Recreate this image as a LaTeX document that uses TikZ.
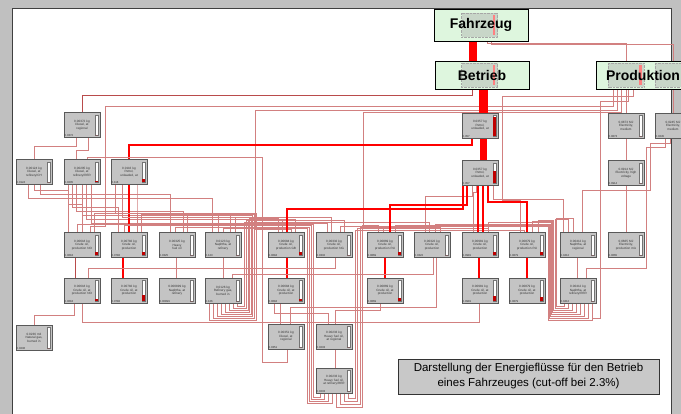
\documentclass[tikz,border=0pt]{standalone}
\usepackage{fontspec}
\setmainfont{Liberation Sans}
\usetikzlibrary{calc,backgrounds}

\definecolor{flowpink}{RGB}{210,128,128}
\definecolor{flowdark}{RGB}{185,75,75}
\definecolor{boxgrey}{RGB}{196,196,196}
\definecolor{boxgreen}{RGB}{222,246,222}
\definecolor{framegrey}{RGB}{192,192,192}
\definecolor{capgrey}{RGB}{200,200,200}
\definecolor{thumbgrey}{RGB}{200,214,200}

\tikzstyle{procbox} = [draw=black!65, line width=0.4pt, fill=boxgrey, minimum width=36pt, minimum height=25pt, inner sep=0pt, text width=28pt, align=center, font=\fontsize{3.1}{3.5}\selectfont, text=black!80]
\tikzstyle{procnum} = [anchor=south west, inner sep=0.7pt, font=\fontsize{2.8}{3}\selectfont, text=black!85]
\tikzstyle{barline} = [draw=black!55, line width=0.3pt, fill=white]
\tikzstyle{barred} = [fill=red!75!black]
\tikzstyle{topbox} = [draw=black, line width=0.7pt, fill=boxgreen, minimum width=94pt, minimum height=28pt, inner sep=0pt, font=\fontsize{14}{16}\selectfont\bfseries]
\tikzstyle{capbox} = [draw=black!80, line width=0.6pt, fill=capgrey, minimum width=261pt, minimum height=35pt, align=center, font=\fontsize{11.5}{15}\selectfont]
\tikzstyle{flow} = [draw=flowpink, line width=0.75pt]
\tikzstyle{flowdark} = [draw=flowdark, line width=0.8pt]
\tikzstyle{flowred} = [draw=red, line width=1.8pt]
\tikzstyle{bandred} = [draw=red, line width=1.4pt]

\tikzset{thumbs/.style={path picture={
  \foreach \o in {#1}{
    \fill[thumbgrey] ([xshift={(\o-18)*1pt},yshift=-12pt]path picture bounding box.center) rectangle ([xshift={(\o+18)*1pt},yshift=12pt]path picture bounding box.center);
    \draw[black!35, densely dotted, line width=0.4pt] ([xshift={(\o-18)*1pt},yshift=-12pt]path picture bounding box.center) rectangle ([xshift={(\o+18)*1pt},yshift=12pt]path picture bounding box.center);
    \fill[red!50] ([xshift={(\o+13)*1pt},yshift=-10pt]path picture bounding box.center) rectangle ([xshift={(\o+15.5)*1pt},yshift=10pt]path picture bounding box.center);
  }}}}

% process box: name, x, y, label, value, red part of the bar
\newcommand{\proc}[6]{%
  \node[procbox] (#1) at (#2,#3) {#4};
  \draw[barline] ([xshift=-5pt,yshift=-2.5pt]#1.north east) rectangle ([xshift=-2pt,yshift=2.5pt]#1.south east);
  \fill[barred] ([xshift=-5pt,yshift=2.5pt]#1.south east) rectangle ([xshift=-2pt,yshift={2.5pt+#6*20pt}]#1.south east);
  \node[procnum] (#1-num) at (#1.south west) {#5};
}
% down flow: [style]{from}{shift}{drop}{to}{shift}
\newcommand{\dflow}[6][flow]{\draw[#1] ([xshift=#3pt]#2.south) -- ++(0,#4) -| ([xshift=#6pt]#5.north);}

\begin{document}
\begin{tikzpicture}[x=1pt,y=-1pt]
\useasboundingbox (0,0) rectangle (681,414);
\clip (0,0) rectangle (681,414);

% top level
\node[topbox, minimum height=32pt, thumbs={-1.5}] (Fahrzeug) at (481,25) {Fahrzeug};
\node[topbox, thumbs={-2.5}] (Betrieb) at (482,75.5) {Betrieb};
\node[topbox, thumbs={-17,30}] (Produktion) at (643,75) {Produktion};

% first rows
\proc{dA}{82}{125}{0.00372 kg\\Diesel, at\\regional}{0.0372}{0}
\proc{dB}{34}{172}{0.00124 kg\\Diesel, at\\refinery/CH}{0.0124}{0}
\proc{dC}{82}{172}{0.00205 kg\\Diesel, at\\refinery/RER}{0.0205}{0.05}
\proc{pA}{129}{172}{0.0116 kg\\Petrol,\\unleaded, at}{0.116}{0.15}
\proc{pT1}{480}{125.5}{0.0357 kg\\Petrol,\\unleaded, at}{0.357}{0.95}
\proc{pT2}{480}{173}{0.0357 kg\\Petrol,\\unleaded, at}{0.357}{0.6}
\proc{eA}{626}{125.5}{0.0873 MJ\\Electricity,\\medium}{0.0873}{0}
\proc{eB}{673}{125.5}{0.0245 MJ\\Electricity,\\medium}{0.0245}{0}
\proc{eC}{626}{173}{0.0914 MJ\\Electricity, high\\voltage}{0.0914}{0}

% row B
\proc{B82}{82}{245}{0.00618 kg\\Crude oil,\\production NO}{0.0618}{0.15}
\proc{B129}{129}{245}{0.00782 kg\\Crude oil,\\production}{0.0782}{0.15}
\proc{B177}{177}{245}{0.00325 kg\\Heavy\\fuel oil}{0.0325}{0}
\proc{B223}{223}{245}{0.0123 kg\\Naphtha, at\\refinery}{0.123}{0}
\proc{B286}{286}{245}{0.00684 kg\\Crude oil,\\production GB}{0.0684}{0.15}
\proc{B334}{334}{245}{0.00332 kg\\Crude oil,\\production NG}{0.0332}{0}
\proc{B385}{385}{245}{0.00869 kg\\Crude oil,\\production RU}{0.0869}{0.15}
\proc{B432}{432}{245}{0.00322 kg\\Crude oil,\\production}{0.0322}{0}
\proc{B480}{480}{245}{0.00981 kg\\Crude oil,\\production}{0.0981}{0.15}
\proc{B527}{527}{245}{0.00879 kg\\Crude oil,\\production RU}{0.0879}{0.15}
\proc{B578}{578}{245}{0.00412 kg\\Naphtha, at\\regional}{0.0412}{0}
\proc{B626}{626}{245}{0.0665 MJ\\Electricity,\\production mix}{0.0665}{0}

% row C
\proc{C82}{82}{290.5}{0.00618 kg\\Crude oil, at\\production NO}{0.0618}{0.1}
\proc{C129}{129}{290.5}{0.00782 kg\\Crude oil, at\\production}{0.0782}{0.3}
\proc{C177}{177}{290.5}{0.000899 kg\\Naphtha, at\\refinery}{0.00899}{0}
\proc{C223}{223}{290.5}{0.0126 kg\\Refinery gas,\\burned in}{0.126}{0}
\proc{C286}{286}{290.5}{0.00684 kg\\Crude oil, at\\production}{0.0684}{0.1}
\proc{C385}{385}{290.5}{0.00869 kg\\Crude oil, at\\production}{0.0869}{0.15}
\proc{C480}{480}{290.5}{0.00981 kg\\Crude oil, at\\production}{0.0981}{0.25}
\proc{C527}{527}{290.5}{0.00879 kg\\Crude oil, at\\production}{0.0879}{0.2}
\proc{C578}{578}{290.5}{0.00412 kg\\Naphtha, at\\refinery/RER}{0.0412}{0}

% rows D and E
\proc{D34}{34}{337.5}{0.0236 m3\\Natural gas,\\burned in}{0.0236}{0}
\proc{D286}{286}{336.5}{0.00351 kg\\Diesel, at\\regional}{0.0351}{0}
\proc{D334}{334}{336.5}{0.00233 kg\\Heavy fuel oil,\\at regional}{0.0233}{0}
\proc{E334}{334}{380.5}{0.00233 kg\\Heavy fuel oil,\\at refinery/RER}{0.0233}{0}

\node[capbox] (caption) at (528.5,376.5) {Darstellung der Energieflüsse für den Betrieb\\eines Fahrzeuges (cut-off bei 2.3\%)};

\begin{pgfonlayer}{background}
\fill[framegrey] (0,0) rectangle (681,414);
\fill[white] (12,8) rectangle (671,414);
\draw[black!75, line width=0.8pt] (12,414) -- (12,8) -- (671,8) -- (671,414);

% Fahrzeug and Produktion
\draw[flow] ([xshift=6pt]Fahrzeug.south) -- ++(0,2) -| ([xshift=-17pt]Produktion.north);
\draw[flow] ([xshift=10pt]Fahrzeug.south) -- ++(0,3.5) -| ([xshift=30pt]Produktion.north);
\draw[flow] ([xshift=-17pt]Produktion.south) -- (eA.north);
\draw[flow] ([xshift=30pt]Produktion.south) -- (eB.north);
\draw[flow] (eA.south) -- (eC.north);
\draw[flow] (eC.south) -- (B626.north);
\draw[flow] ([xshift=-3pt]eB.south) -- ++(0,5) -| (650,190) -| ([xshift=4pt]B578.north);
\draw[flow] ([xshift=-8pt]eB.south) -- ++(0,9) -| (646,268) -| ([xshift=8pt]C578.north);
\draw[flow] ([xshift=-30pt]Produktion.south) -- ++(0,17) -| (105,226) -| ([xshift=8pt]B82.north);
\draw[flow] ([xshift=-26pt]Produktion.south) -- ++(0,21) -| (255,229) -| ([xshift=5pt]B286.north);
\draw[flow] ([xshift=-22pt]Produktion.south) -- ++(0,23) -| (363,228) -| ([xshift=-2pt]B385.north);
\draw[flow] ([xshift=-10pt]Produktion.south) -- ++(0,7) -| (502,200) -| ([xshift=-7pt]B527.north);
\draw[flow] ([xshift=-15pt]Produktion.south) -- ++(0,12) -| (600,318) -| ([xshift=14pt]C578.south);

% Betrieb
\draw[flowred, line width=8pt] ([xshift=-8pt]Fahrzeug.south) -- ([xshift=-9pt]Betrieb.north);
\draw[flowred, line width=9pt] ([xshift=1pt]Betrieb.south) -- ([xshift=3pt]pT1.north);
\draw[flowred, line width=7pt] ([xshift=3pt]pT1.south) -- ([xshift=3pt]pT2.north);
\draw[flowdark] ([xshift=-10pt]Betrieb.south) -- ++(0,5.5) -| (dA.north);
\draw[flowred] ([xshift=-8pt]pT1.south) -- ++(0,6.5) -| (pA.north);
\draw[flow] ([xshift=-6pt]dA.south) -- ++(0,9) -| (dB.north);
\draw[flow] ([xshift=6pt]dA.south) -- ++(0,13) -| ([xshift=-6pt]dC.north);

% band down to row B
\dflow{dB}{0}{5.5}{B82}{-14}
\dflow{dB}{6}{9.5}{B177}{-7}
\dflow{dB}{-6}{13.5}{B223}{-11}
\dflow{dC}{-14}{19.5}{B82}{0}
\dflow{dC}{-10}{22.5}{B129}{-11}
\dflow{dC}{-6}{26.5}{B177}{6}
\dflow{dC}{0}{30.5}{B223}{-5}
\dflow{dC}{4}{34.5}{B286}{-4}
\dflow{dC}{9}{38.5}{B334}{-7}
\dflow[flowred]{pA}{0}{10}{B129}{0}
\dflow{pA}{8}{10}{B129}{8}
\dflow{pA}{-14}{28.5}{B223}{7}
\dflow{pA}{-7}{32.5}{B334}{-3}
\dflow{pT2}{-8}{10.5}{B432}{-7}
\dflow{pT2}{13}{13.5}{B578}{-15}
\dflow{pT2}{-4}{6.5}{B480}{-7}

% bundles up into the band
\foreach \k/\tg/\ts in {0/B82/12, 1/B129/12, 2/B177/10, 3/B223/12, 4/B286/-8, 5/B286/9, 6/B334/10, 7/B432/-3}
  \draw[flow] ([xshift={(4*\k-14)*1pt}]C223.south) -- ++(0,{17-2*\k}) -| ({256-1.6*\k},{213+1.3*\k}) -| ([xshift=\ts pt]\tg.north);
\foreach \k/\tg/\ts in {0/B82/-5, 1/B129/-5, 2/B177/-2, 3/B223/0}
  \draw[flow] ([xshift={(4*\k-14)*1pt}]E334.south) -- ++(0,{4+2*\k}) -| ({313-2*\k},{224+1.5*\k}) -| ([xshift=\ts pt]\tg.north);
\foreach \k/\tg/\ts in {4/B385/-7, 5/B432/8, 6/B480/8, 7/B527/-3}
  \draw[flow] ([xshift={(4*\k-14)*1pt}]E334.south) -- ++(0,{5+3*(7-\k)}) -| ({355+2.5*(7-\k)},{230-1.5*(7-\k)}) -| ([xshift=\ts pt]\tg.north);
\foreach \k/\tg/\ts in {0/B578/-5, 1/B578/-10, 2/B527/11, 3/B527/5, 4/B480/8, 5/B432/3, 6/B385/10, 7/B334/6}
  \draw[flow] ([xshift={(4*\k-14)*1pt}]C578.south) -- ++(0,{3+2*\k}) -| ({556-1.1*\k},{218+1.2*\k}) -| ([xshift=\ts pt]\tg.north);

% red flows out of the petrol box
\dflow[bandred]{pT2}{-17}{23.5}{B286}{1}
\dflow[bandred]{pT2}{-13}{19.5}{B385}{5}
\dflow[bandred]{pT2}{8}{16.5}{B527}{0}
\dflow[bandred]{pT2}{-2}{10}{B480}{-2}
\dflow[bandred]{pT2}{3}{10}{B480}{3}

% row B to row C
\draw[flowdark] ([xshift=-7pt]B82.south) -- ([xshift=-7pt]C82.north);
\draw[flowred, line width=1.4pt] ([xshift=-6pt]B129.south) -- ([xshift=-6pt]C129.north);
\draw[flow] ([xshift=-1pt]B177.south) -- ([xshift=-1pt]C177.north);
\draw[flow] (B223.south) -- (C223.north);
\draw[flowred, line width=1.4pt] ([xshift=1pt]B286.south) -- ([xshift=1pt]C286.north);
\draw[flowred, line width=1.4pt] (B385.south) -- (C385.north);
\draw[flowred, line width=1.4pt] ([xshift=-1pt]B480.south) -- ([xshift=-1pt]C480.north);
\draw[flowred, line width=1.4pt] (B527.south) -- (C527.north);
\draw[flow] ([xshift=-1pt]B578.south) -- ([xshift=-1pt]C578.north);
\draw[flow] ([xshift=1pt]B334.south) -- ++(0,11) -| ([xshift=6pt]C82.north);
\draw[flow] ([xshift=1pt]B432.south) -- ++(0,17) -| ([xshift=9pt]C223.north);
\draw[flow] ([xshift=4pt]B432.south) -- ++(0,50) -| ([xshift=4pt]D286.north);

% lower rows
\draw[flow] ([xshift=-6pt]C286.south) -- ([xshift=-6pt]D286.north);
\draw[flow] ([xshift=-12pt]C286.south) -- ++(0,10) -| ([xshift=-6pt]D334.north);
\draw[flow] ([xshift=-5pt]C385.south) -- ++(0,7) -| ([xshift=1pt]D334.north);
\draw[flow] ([xshift=1pt]D334.south) -- ([xshift=1pt]E334.north);
\draw[flow] ([xshift=1pt]D286.south) -- ++(0,13) -| (262,157) -| ([xshift=5pt]dC.north);
\draw[flow] ([xshift=-8pt]C82.south) -- ++(0,12) -| (D34.north);
\draw[flow] ([xshift=-1pt]C480.south) -- ++(0,19) -| (C82.south);
\end{pgfonlayer}
\end{tikzpicture}
\end{document}
